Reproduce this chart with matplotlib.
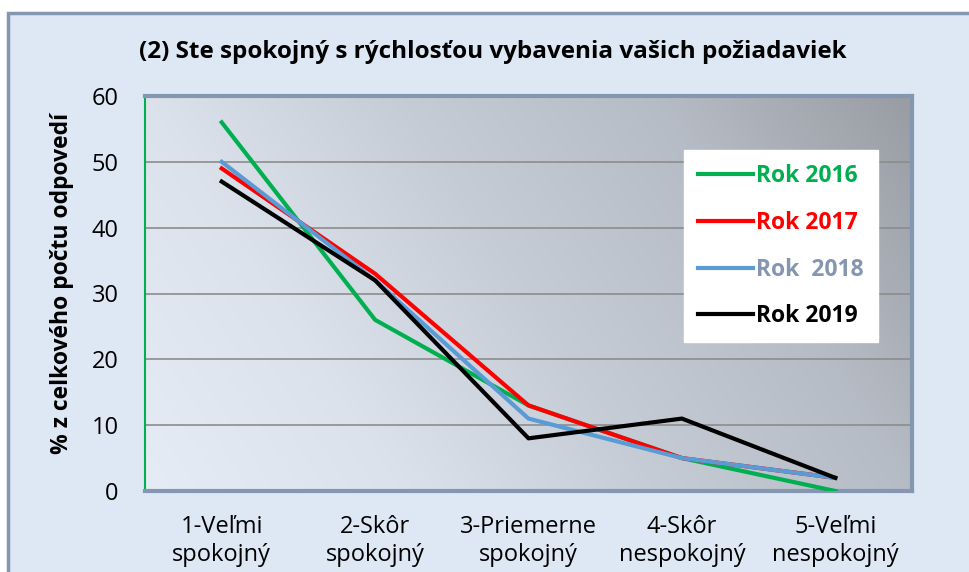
import numpy as np
import matplotlib.pyplot as plt
from matplotlib.patches import Rectangle
from matplotlib.colors import LinearSegmentedColormap

plt.rcParams['font.family'] = ['Open Sans', 'DejaVu Sans']

categories = ['1-Veľmi\nspokojný', '2-Skôr\nspokojný', '3-Priemerne\nspokojný',
              '4-Skôr\nnespokojný', '5-Veľmi\nnespokojný']
rok_2016 = [56, 26, 13, 5, 0]
rok_2017 = [49, 33, 13, 5, 2]
rok_2018 = [50, 32, 11, 5, 2]
rok_2019 = [47, 32, 8, 11, 2]

series = [
    ('Rok 2016', rok_2016, '#00b050', '#00b050'),
    ('Rok 2017', rok_2017, '#ff0000', '#ff0000'),
    ('Rok  2018', rok_2018, '#5b9bd5', '#8496b0'),
    ('Rok 2019', rok_2019, '#000000', '#000000'),
]

fig = plt.figure(figsize=(9.7, 5.72), dpi=100)
fig.patch.set_facecolor('white')

# chart area frame (cut off at right and bottom like the reference)
fig.patches.append(Rectangle((8 / 970, -0.05), 1.0, 1 - 13 / 572 + 0.05,
                             transform=fig.transFigure, facecolor='#dde8f4',
                             edgecolor='#8496b0', linewidth=2.5, zorder=-10))

ax = fig.add_axes([145 / 970, 1 - 491 / 572, 767 / 970, 395 / 572])
ax.set_zorder(1)

# gradient background, light at left to gray at top right
gx, gy = np.meshgrid(np.linspace(0, 1, 300), np.linspace(0, 1, 300))
grad = 0.75 * gx + 0.25 * gy
bg = LinearSegmentedColormap.from_list(
    'bg', [(0, '#e6ecf5'), (0.25, '#dce2eb'), (0.5, '#c6ccd5'),
           (0.75, '#b6bcc5'), (1, '#999ca3')])
ax.imshow(grad, extent=[0, 1, 0, 1], transform=ax.transAxes, origin='lower',
          cmap=bg, vmin=0, vmax=1, aspect='auto', zorder=0)

x = np.arange(len(categories))
for name, vals, col, tcol in series:
    ax.plot(x, vals, color=col, linewidth=3, label=name, zorder=3)

ax.set_xlim(-0.5, 4.5)
ax.set_ylim(0, 60)
ax.set_yticks(range(0, 61, 10))
ax.set_xticks(x)
ax.set_xticklabels(categories, fontsize=17, linespacing=1.22)
ax.tick_params(axis='y', labelsize=17, length=0, pad=19)
ax.tick_params(axis='x', length=0, pad=17)
for v in range(10, 60, 10):
    ax.axhline(v, color='#8c8c8c', linewidth=1.2, zorder=1)

for side in ['top', 'right', 'bottom']:
    ax.spines[side].set_color('#8496b0')
    ax.spines[side].set_linewidth(3)
ax.spines['left'].set_color('#00b050')
ax.spines['left'].set_linewidth(1.5)

fig.text(62 / 970, 1 - 283 / 572, '% z celkového počtu odpovedí',
         rotation=90, ha='center', va='center', fontsize=16.5,
         fontweight='bold')
fig.text(493 / 970, 1 - 52 / 572,
         '(2) Ste spokojný s rýchlosťou vybavenia vašich požiadaviek',
         ha='center', va='center', fontsize=17.5, fontweight='bold')

leg = ax.legend(loc='upper left', bbox_to_anchor=(539 / 767, 341 / 395),
                borderaxespad=0, frameon=True, fancybox=False,
                handlelength=2.4, handletextpad=0.15, labelspacing=1.0,
                borderpad=0.6, prop={'weight': 'bold', 'size': 16.5})
leg.get_frame().set_edgecolor('white')
leg.get_frame().set_alpha(1)
for line in leg.get_lines():
    line.set_linewidth(3)
for txt, (_, _, _, tcol) in zip(leg.get_texts(), series):
    txt.set_color(tcol)

fig.savefig('out.png', dpi=100)
